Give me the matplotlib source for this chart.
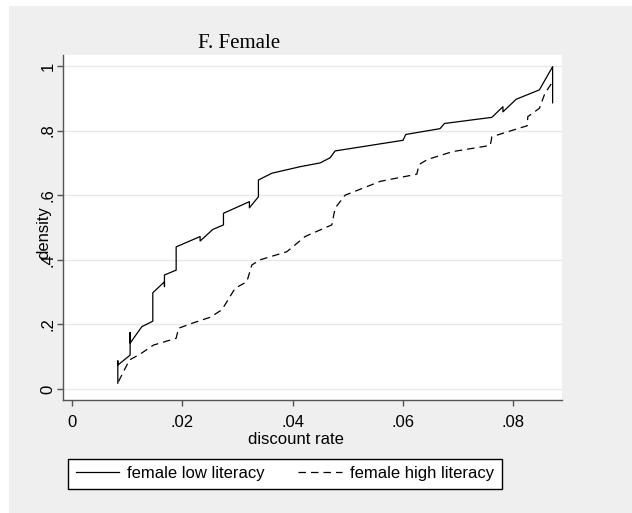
import matplotlib
matplotlib.use("Agg")
import matplotlib.pyplot as plt
from matplotlib.patches import Rectangle

# cumulative density of discount rates, female respondents
rate_low = [0.00833, 0.00833, 0.00833, 0.01056, 0.01056, 0.01056, 0.01268, 0.01467,
            0.01467, 0.01678, 0.01678, 0.01678, 0.0189, 0.0189, 0.02324, 0.02324,
            0.02554, 0.02747, 0.02747, 0.03217, 0.03217, 0.0338, 0.0338, 0.03623,
            0.0413, 0.045, 0.0468, 0.0477, 0.0600, 0.0605, 0.0667, 0.0675, 0.0761,
            0.0781, 0.0781, 0.0805, 0.0847, 0.0871, 0.0871]
dens_low = [0.018, 0.087, 0.074, 0.105, 0.175, 0.142, 0.193, 0.21,
            0.298, 0.332, 0.317, 0.353, 0.368, 0.44, 0.472, 0.458,
            0.494, 0.508, 0.544, 0.58, 0.561, 0.595, 0.647, 0.668,
            0.688, 0.70, 0.716, 0.737, 0.770, 0.788, 0.806, 0.822, 0.841,
            0.874, 0.858, 0.897, 0.926, 0.998, 0.886]

rate_high = [0.00845, 0.01044, 0.01237, 0.01479, 0.0189, 0.01932, 0.02203, 0.02505,
             0.02717, 0.02808, 0.02958, 0.0317, 0.03261, 0.03411, 0.03895, 0.04226,
             0.04317, 0.0471, 0.0477, 0.0495, 0.0559, 0.0625, 0.0629, 0.0645,
             0.0690, 0.0758, 0.0761, 0.0804, 0.0825, 0.0826, 0.0847, 0.0857, 0.0871]
dens_high = [0.023, 0.09, 0.108, 0.136, 0.157, 0.188, 0.205, 0.222,
             0.245, 0.27, 0.312, 0.332, 0.384, 0.40, 0.425, 0.472,
             0.479, 0.508, 0.56, 0.60, 0.643, 0.665, 0.695, 0.711,
             0.735, 0.754, 0.781, 0.804, 0.815, 0.843, 0.869, 0.915, 0.951]

x_ticks = [0, 0.02, 0.04, 0.06, 0.08]
x_labels = ["0", ".02", ".04", ".06", ".08"]
y_ticks = [0, 0.2, 0.4, 0.6, 0.8, 1.0]
y_labels = ["0", ".2", ".4", ".6", ".8", "1"]

plt.rcParams["font.family"] = ["Liberation Sans", "DejaVu Sans"]
W, H = 632, 513
FS = 12

fig = plt.figure(figsize=(W / 100, H / 100), dpi=100, facecolor="white")
fig.add_artist(Rectangle((9 / W, 0), 1 - 9 / W, 1 - 6 / H, transform=fig.transFigure,
                         facecolor="#efefef", edgecolor="none", zorder=0))

ax = fig.add_axes([63 / W, 113 / H, 499 / W, 345 / H])
ax.set_facecolor("white")

ax.plot(rate_low, dens_low, color="black", lw=0.9, label="female low literacy")
ax.plot(rate_high, dens_high, color="black", lw=0.9, dashes=(6, 4),
        label="female high literacy")

ax.set_xlim(-0.0016, 0.0888)
ax.set_ylim(-0.034, 1.034)
ax.set_xticks(x_ticks, x_labels)
ax.set_yticks(y_ticks, y_labels)
ax.grid(axis="y", color="#e8e8e8", lw=1.0)
ax.set_axisbelow(True)

for side in ["top", "right"]:
    ax.spines[side].set_visible(False)
for side in ["left", "bottom"]:
    ax.spines[side].set_color("#555555")
    ax.spines[side].set_linewidth(1.0)

ax.tick_params(axis="both", length=4.5, width=1.0, color="#555555",
               labelsize=FS, labelcolor="black")
ax.tick_params(axis="x", pad=6.5)
ax.tick_params(axis="y", pad=1, labelrotation=90)
for lbl in ax.get_yticklabels():
    lbl.set_va("center")

fig.text(239 / W, 1 - 48.3 / H, "F. Female", ha="center", va="baseline",
         family=["Liberation Serif", "DejaVu Serif"], fontsize=15)
fig.text(296 / W, 1 - 444 / H, "discount rate", ha="center", va="baseline",
         fontsize=FS)
fig.text(44 / W, 1 - 233 / H, "density", ha="center", va="center",
         rotation=90, fontsize=FS)

leg = ax.legend(loc="center", bbox_to_anchor=(285 / W, 1 - 473.5 / H),
                bbox_transform=fig.transFigure, ncol=2, fontsize=FS,
                frameon=True, fancybox=False, handlelength=2.6,
                handletextpad=0.5, columnspacing=2.0, borderpad=0.45,
                borderaxespad=0)
leg.get_frame().set_edgecolor("black")
leg.get_frame().set_linewidth(1.0)
leg.get_frame().set_facecolor("white")
leg.get_frame().set_alpha(1)

fig.savefig("out.png", dpi=100, facecolor=fig.get_facecolor())
